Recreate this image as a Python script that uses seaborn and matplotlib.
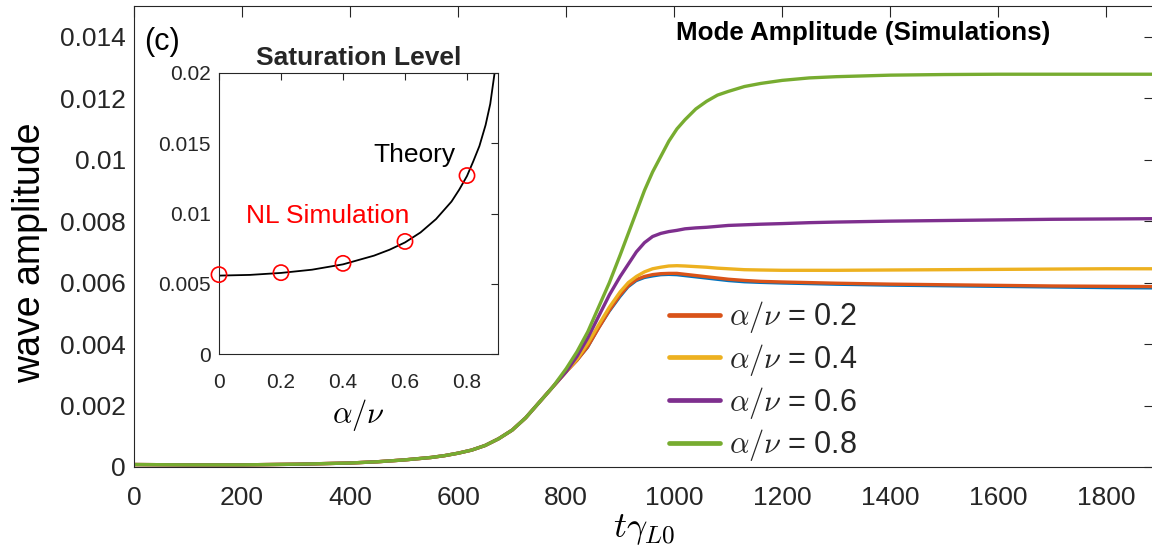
import numpy as np
import pandas as pd
import matplotlib
matplotlib.use("Agg")
import matplotlib.pyplot as plt
import seaborn as sns

# ---------------- data ----------------
t = [0, 100, 200, 300, 400, 450, 500, 550, 575, 600, 625, 650, 675, 700, 725,
     750, 775,
     800, 820, 840, 860, 880, 900, 915, 930, 945, 960, 975, 990, 1005, 1020,
     1040, 1060, 1080, 1100, 1130, 1160, 1200, 1250, 1300, 1400, 1500, 1600,
     1700, 1800, 1890]
early = [0.00008, 0.00007, 0.00007, 0.00009, 0.00013, 0.00017, 0.00023, 0.00031,
         0.00037, 0.00045, 0.00055, 0.00070, 0.00092, 0.00120, 0.00160, 0.00210,
         0.00260]
amp_00 = early + [0.00310, 0.00346, 0.00388, 0.00450, 0.00505, 0.00553, 0.00585,
                  0.00605, 0.00615, 0.00620, 0.00624, 0.00625, 0.00624, 0.00621,
                  0.00617, 0.00613, 0.00609, 0.00605, 0.00601, 0.00599, 0.00597,
                  0.00595, 0.00593, 0.00590, 0.00588, 0.00586, 0.00584, 0.00582,
                  0.00581]
amp_02 = early + [0.00310, 0.00347, 0.00392, 0.00452, 0.00510, 0.00560, 0.00590,
                  0.00610, 0.00620, 0.00626, 0.00629, 0.00630, 0.00630, 0.00627,
                  0.00623, 0.00619, 0.00615, 0.00611, 0.00607, 0.00604, 0.00602,
                  0.00600, 0.00598, 0.00595, 0.00593, 0.00591, 0.00589, 0.00588,
                  0.00587]
amp_04 = early + [0.00310, 0.00350, 0.00402, 0.00462, 0.00520, 0.00570, 0.00600,
                  0.00620, 0.00635, 0.00645, 0.00650, 0.00654, 0.00655, 0.00654,
                  0.00652, 0.00650, 0.00647, 0.00645, 0.00642, 0.00641, 0.00640,
                  0.00640, 0.00640, 0.00641, 0.00642, 0.00643, 0.00644, 0.00645,
                  0.00645]
amp_06 = early + [0.00310, 0.00360, 0.00420, 0.00490, 0.00560, 0.00620, 0.00660,
                  0.00700, 0.00730, 0.00750, 0.00760, 0.00766, 0.00770, 0.00775,
                  0.00778, 0.00780, 0.00783, 0.00786, 0.00788, 0.00790, 0.00792,
                  0.00795, 0.00797, 0.00800, 0.00802, 0.00804, 0.00806, 0.00807,
                  0.00808]
amp_08 = early + [0.00320, 0.00375, 0.00440, 0.00520, 0.00600, 0.00690, 0.00760,
                  0.00830, 0.00900, 0.00960, 0.01010, 0.01060, 0.01100, 0.01130,
                  0.01165, 0.01190, 0.01210, 0.01222, 0.01238, 0.01248, 0.01258,
                  0.01266, 0.01270, 0.01275, 0.01277, 0.01278, 0.01278, 0.01278,
                  0.01278]

ratio_labels = ["0.2", "0.4", "0.6", "0.8"]

sim_ratio = [0.0, 0.2, 0.4, 0.6, 0.8]
sim_sat = [0.00565, 0.00579, 0.00645, 0.00801, 0.01270]

theory_ratio = [0.0, 0.1, 0.2, 0.3, 0.4, 0.5, 0.55, 0.6, 0.65, 0.7, 0.75, 0.775,
                0.8, 0.82, 0.84, 0.86, 0.875, 0.889]
theory_sat = [0.00558, 0.00563, 0.00577, 0.00600, 0.00638, 0.00700, 0.00742,
              0.00794, 0.00865, 0.00960, 0.01085, 0.01170, 0.01267, 0.01370,
              0.01480, 0.01630, 0.01780, 0.02000]

main_xticks = [0, 200, 400, 600, 800, 1000, 1200, 1400, 1600, 1800]
main_yticks = [0, 0.002, 0.004, 0.006, 0.008, 0.010, 0.012, 0.014]
main_yticklabels = ["0", "0.002", "0.004", "0.006", "0.008", "0.01", "0.012", "0.014"]
inset_xticks = [0, 0.2, 0.4, 0.6, 0.8]
inset_xticklabels = ["0", "0.2", "0.4", "0.6", "0.8"]
inset_yticks = [0, 0.005, 0.01, 0.015, 0.02]
inset_yticklabels = ["0", "0.005", "0.01", "0.015", "0.02"]

# ---------------- style ----------------
sns.set_style("white")
plt.rcParams["font.family"] = ["Liberation Sans", "DejaVu Sans"]
plt.rcParams["mathtext.fontset"] = "cm"
plt.rcParams["lines.solid_joinstyle"] = "round"

blue = (0.0, 0.447, 0.741)
red = (0.85, 0.325, 0.098)
yellow = (0.929, 0.694, 0.125)
purple = (0.494, 0.184, 0.556)
green = (0.466, 0.674, 0.188)
axcol = "#262626"

fig = plt.figure(figsize=(11.52, 5.51), dpi=100)
ax = fig.add_axes([134 / 1152, 1 - 467 / 551, (1155 - 134) / 1152, (467 - 6) / 551])

series = [(amp_00, blue, None, 1.6), (amp_02, red, ratio_labels[0], 2.4),
          (amp_04, yellow, ratio_labels[1], 2.4), (amp_06, purple, ratio_labels[2], 2.4),
          (amp_08, green, ratio_labels[3], 2.4)]
handles = []
for vals, col, lab, lw in series:
    df = pd.DataFrame({"t": t, "amp": vals})
    sns.lineplot(data=df, x="t", y="amp", ax=ax, color=col, linewidth=lw,
                 legend=False, estimator=None, sort=False)
    if lab is not None:
        handles.append((ax.lines[-1], r"$\alpha/\nu$" + " = " + lab))

ax.set_xlim(0, 1890)
ax.set_ylim(0, 0.015)
ax.set_xticks(main_xticks)
ax.set_yticks(main_yticks)
ax.set_yticklabels(main_yticklabels)
ax.tick_params(direction="in", length=8, width=0.8, top=True, right=True,
               labelsize=19, colors=axcol, pad=6)
ax.tick_params(axis="x", pad=14)
for s in ax.spines.values():
    s.set_color(axcol)
    s.set_linewidth(0.8)
ax.set_xlabel(r"$t\gamma_{L0}$", fontsize=26, color="black", labelpad=1)
ax.set_ylabel("wave amplitude", fontsize=27, color="black", labelpad=4)
ax.yaxis.set_label_coords(-0.084, 0.464)

ax.text(0.897, 0.941, "Mode Amplitude (Simulations)", transform=ax.transAxes,
        ha="right", va="center", fontsize=18.7, fontweight="bold", color="black")
ax.text(0.010, 0.922, "(c)", transform=ax.transAxes, ha="left", va="center",
        fontsize=22, color="black")

leg = ax.legend([h for h, _ in handles], [l for _, l in handles],
                loc="upper left", bbox_to_anchor=((654 - 134) / 1021, 1 - (284 - 6) / 461),
                frameon=False, fontsize=22, handlelength=1.65, handletextpad=0.3,
                labelspacing=0.22, borderpad=0.0)
for line in leg.get_lines():
    line.set_linewidth(3.4)

# ---------------- inset ----------------
ins = fig.add_axes([219 / 1152, 1 - 354 / 551, (498 - 219) / 1152, (354 - 73) / 551])
ins.set_facecolor("white")
dth = pd.DataFrame({"r": theory_ratio, "s": theory_sat})
sns.lineplot(data=dth, x="r", y="s", ax=ins, color="black", linewidth=1.3,
             estimator=None, sort=False, legend=False)
dsim = pd.DataFrame({"r": sim_ratio, "s": sim_sat})
sns.scatterplot(data=dsim, x="r", y="s", ax=ins, marker="o", s=120,
                facecolor="none", edgecolor="red", linewidth=1.2, legend=False,
                zorder=5, clip_on=False)
ins.set_xlim(0, 0.9)
ins.set_ylim(0, 0.02)
ins.set_xticks(inset_xticks)
ins.set_xticklabels(inset_xticklabels)
ins.set_yticks(inset_yticks)
ins.set_yticklabels(inset_yticklabels)
ins.tick_params(direction="in", length=5, width=0.8, top=True, right=True,
                labelsize=15, colors=axcol, pad=6)
ins.tick_params(axis="x", pad=14)
for s in ins.spines.values():
    s.set_color(axcol)
    s.set_linewidth(0.8)
ins.set_xlabel(r"$\alpha/\nu$", fontsize=22, color="black", labelpad=3)
ins.set_ylabel("")
ins.set_title("Saturation Level", fontsize=19, fontweight="bold", pad=6)
ins.text(0.552, 0.708, "Theory", transform=ins.transAxes, fontsize=19,
         color="black", ha="left", va="center")
ins.text(0.097, 0.49, "NL Simulation", transform=ins.transAxes, fontsize=19,
         color="red", ha="left", va="center")

fig.savefig("out.png", dpi=100)
